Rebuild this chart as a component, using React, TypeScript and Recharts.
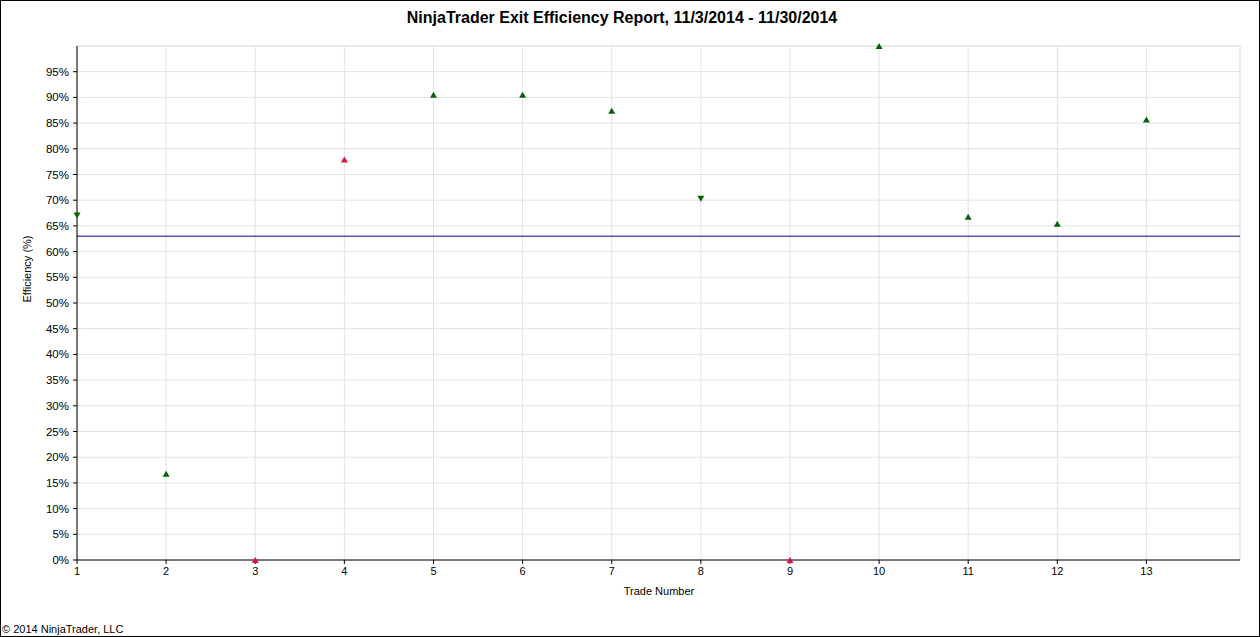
import { ScatterChart, Scatter, XAxis, YAxis, CartesianGrid, ReferenceLine } from 'recharts';

const trades = [1, 2, 3, 4, 5, 6, 7, 8, 9, 10, 11, 12, 13];
const efficiency = [67.0, 16.8, 0, 77.9, 90.5, 90.5, 87.4, 70.3, 0, 100, 66.8, 65.4, 85.7];
const profitable = [true, true, false, false, true, true, true, true, false, true, true, true, true];
const direction = ['short', 'long', 'long', 'long', 'long', 'long', 'long', 'short', 'long', 'long', 'long', 'long', 'long'];
const averageEfficiency = 63;
const yTicks = [0, 5, 10, 15, 20, 25, 30, 35, 40, 45, 50, 55, 60, 65, 70, 75, 80, 85, 90, 95];

const X_MAX = 14.05;
const FONT = '"Liberation Sans", Arial, sans-serif';

const points = trades.map((t, i) => ({
  trade: t,
  eff: efficiency[i],
  color: profitable[i] ? '#006400' : '#DC143C',
  dir: direction[i],
}));

function Triangle(props: any) {
  const { cx, cy, payload } = props;
  if (cx == null || cy == null) return null;
  const w = 3.5;
  const h = 3;
  const pts =
    payload.dir === 'short'
      ? `${cx - w},${cy - h} ${cx + w},${cy - h} ${cx},${cy + h}`
      : `${cx - w},${cy + h} ${cx + w},${cy + h} ${cx},${cy - h}`;
  return <polygon points={pts} fill={payload.color} />;
}

export default function App() {
  return (
    <div
      style={{
        position: 'absolute',
        left: 0,
        top: 0,
        width: 1258,
        height: 635,
        border: '1px solid #000',
        background: '#fff',
        fontFamily: FONT,
      }}
    >
      <div
        style={{
          position: 'absolute',
          top: 8,
          left: 0,
          width: 1242,
          textAlign: 'center',
          fontWeight: 'bold',
          fontSize: 16,
          color: '#000',
        }}
      >
        NinjaTrader Exit Efficiency Report, 11/3/2014 - 11/30/2014
      </div>
      <ScatterChart width={1258} height={635} margin={{ top: 45, right: 19, bottom: 36, left: 0 }}>
        <CartesianGrid stroke="#e2e2e2" />
        <XAxis
          type="number"
          dataKey="trade"
          domain={[1, X_MAX]}
          ticks={trades}
          height={40}
          stroke="#000"
          tickSize={4}
          tickMargin={3}
          tick={{ fill: '#000', fontSize: 11, fontFamily: FONT }}
        />
        <YAxis
          type="number"
          dataKey="eff"
          domain={[0, 100]}
          ticks={yTicks}
          width={76}
          stroke="#000"
          tickSize={4}
          tickMargin={4}
          tickFormatter={(v: number) => `${v}%`}
          tick={{ fill: '#000', fontSize: 11.5, fontFamily: FONT }}
        />
        <ReferenceLine y={100} stroke="#e2e2e2" />
        <ReferenceLine x={X_MAX} stroke="#e2e2e2" />
        <ReferenceLine y={averageEfficiency} stroke="#000080" />
        <Scatter data={points} shape={<Triangle />} isAnimationActive={false} />
      </ScatterChart>
      <div
        style={{
          position: 'absolute',
          top: 584,
          left: 0,
          width: 1316,
          textAlign: 'center',
          fontSize: 11,
          color: '#000',
        }}
      >
        Trade Number
      </div>
      <div
        style={{
          position: 'absolute',
          left: 26 - 50,
          top: 269 - 7,
          width: 100,
          textAlign: 'center',
          fontSize: 11,
          color: '#000',
          transform: 'rotate(-90deg)',
        }}
      >
        Efficiency (%)
      </div>
      <div style={{ position: 'absolute', left: 1, top: 622, fontSize: 11, color: '#000' }}>
        © 2014 NinjaTrader, LLC
      </div>
    </div>
  );
}
